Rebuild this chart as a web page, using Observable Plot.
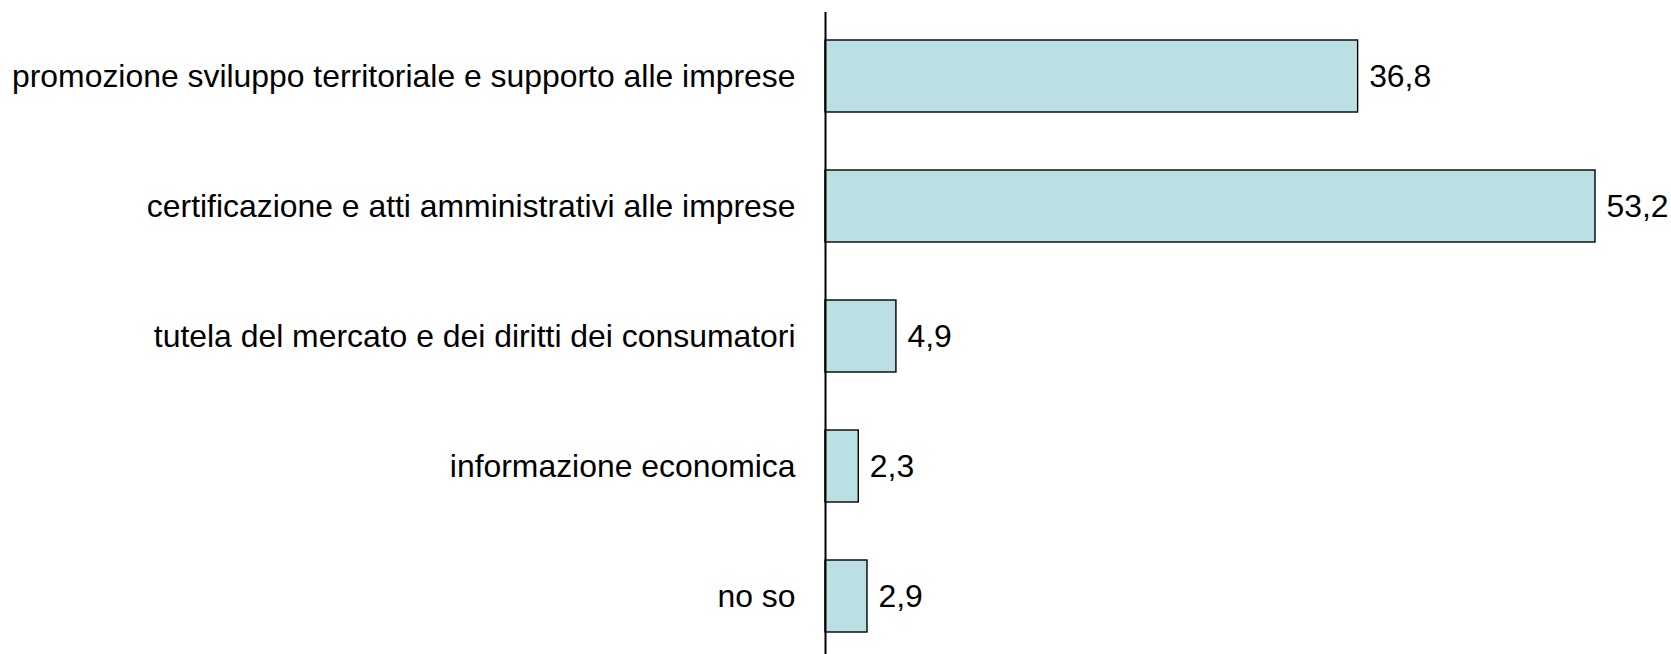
<!DOCTYPE html>
<html>
<head>
<meta charset="utf-8">
<script src="https://cdn.jsdelivr.net/npm/d3@7"></script>
<script src="https://cdn.jsdelivr.net/npm/@observablehq/plot@0.6"></script>
<style>
  html, body { margin: 0; padding: 0; background: white; }
</style>
</head>
<body>
<div id="chart"></div>
<script>
const categories = [
  "promozione sviluppo territoriale e supporto alle imprese",
  "certificazione e atti amministrativi alle imprese",
  "tutela del mercato e dei diritti dei consumatori",
  "informazione economica",
  "no so"
];
const values = [36.8, 53.2, 4.9, 2.3, 2.9];
const valueLabels = ["36,8", "53,2", "4,9", "2,3", "2,9"];

const data = categories.map((c, i) => ({cat: c, value: values[i], label: valueLabels[i]}));

const chart = Plot.plot({
  width: 1671,
  height: 654,
  marginLeft: 825,
  marginRight: 0,
  marginTop: 12,
  marginBottom: 0,
  style: {fontFamily: "'Liberation Sans', Arial, sans-serif", fontSize: "31.9px", color: "black", background: "white"},
  x: {domain: [0, 53.2], range: [825, 1595], axis: null},
  y: {domain: categories, range: [11, 661], paddingInner: 0.446, paddingOuter: 0.223, axis: null, label: null},
  marks: [
    Plot.barX(data, {x: "value", y: "cat", fill: "#bbe0e3", stroke: "black", strokeWidth: 1.4}),
    Plot.axisY({tickSize: 0, tickPadding: 30, fontSize: 31.9, fill: "black", textAnchor: "end", label: null}),
    Plot.ruleX([0], {stroke: "black", strokeWidth: 2}),
    Plot.text(data, {x: "value", y: "cat", text: "label", textAnchor: "start", dx: 11, fontSize: 31.9, fill: "black"})
  ]
});
document.getElementById("chart").appendChild(chart);
</script>
</body>
</html>
